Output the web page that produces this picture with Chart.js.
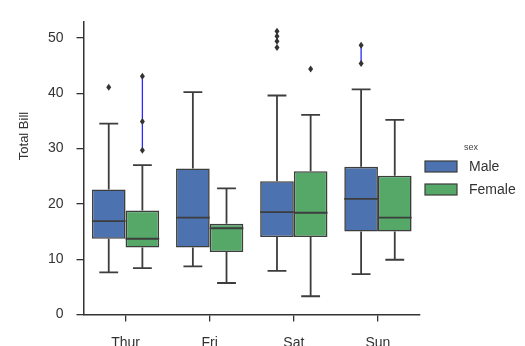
<!DOCTYPE html>
<html lang="en">
<head>
  <meta charset="UTF-8">
  <title>Total Bill by day</title>
  <script src="https://cdn.jsdelivr.net/npm/chart.js"></script>
  <style>
    html, body { margin: 0; padding: 0; background: #fff; }
    #wrap { width: 525px; height: 346px; }
  </style>
</head>
<body>
  <div id="wrap"><canvas id="boxChart" width="525" height="346"></canvas></div>
  <script>
    // categories and tick labels
    var days = ['Thur', 'Fri', 'Sat', 'Sun'];
    var yTicks = [0, 10, 20, 30, 40, 50];

    // Male boxes
    var maleLow = [7.6, 8.7, 7.9, 7.3];
    var maleQ1 = [13.7, 12.1, 14.0, 15.0];
    var maleMedian = [16.9, 17.5, 18.5, 20.9];
    var maleQ3 = [22.6, 26.4, 24.1, 26.7];
    var maleHigh = [34.5, 40.2, 39.6, 40.7];
    var maleOutliers = [[41.1], [], [51.2, 50.3, 49.4, 48.3], [48.7, 45.4]];

    // Female boxes
    var femaleLow = [8.4, 5.7, 3.3, 9.9];
    var femaleQ1 = [12.1, 11.3, 14.0, 15.0];
    var femaleMedian = [13.7, 15.6, 18.4, 17.5];
    var femaleQ3 = [18.8, 16.4, 25.9, 25.1];
    var femaleHigh = [27.0, 22.8, 36.1, 35.2];
    var femaleOutliers = [[43.1, 34.9, 29.7], [], [44.4], []];

    // outlier groups joined by a thin blue line in the original
    var linkedMale = [false, false, false, true];
    var linkedFemale = [true, false, false, false];

    var edge = '#3d3d3d';
    var font = "'Liberation Sans', Arial, sans-serif";

    var boxes = [
      { q1: maleQ1, q3: maleQ3, low: maleLow, med: maleMedian, high: maleHigh, out: maleOutliers, link: linkedMale },
      { q1: femaleQ1, q3: femaleQ3, low: femaleLow, med: femaleMedian, high: femaleHigh, out: femaleOutliers, link: linkedFemale }
    ];

    var boxParts = {
      id: 'boxParts',
      afterDatasetsDraw: function (chart) {
        var ctx = chart.ctx;
        var y = chart.scales.y;
        ctx.save();
        boxes.forEach(function (b, d) {
          var meta = chart.getDatasetMeta(d);
          meta.data.forEach(function (el, i) {
            var x = el.x, half = el.width / 2, cap = el.width * 0.28;
            var top = y.getPixelForValue(b.q3[i]);
            var bot = y.getPixelForValue(b.q1[i]);
            var hi = y.getPixelForValue(b.high[i]);
            var lo = y.getPixelForValue(b.low[i]);
            ctx.strokeStyle = edge;
            ctx.lineWidth = 1.8;
            ctx.beginPath();
            ctx.moveTo(x, top); ctx.lineTo(x, hi);
            ctx.moveTo(x - cap, hi); ctx.lineTo(x + cap, hi);
            ctx.moveTo(x, bot); ctx.lineTo(x, lo);
            ctx.moveTo(x - cap, lo); ctx.lineTo(x + cap, lo);
            var m = y.getPixelForValue(b.med[i]);
            ctx.moveTo(x - half, m); ctx.lineTo(x + half, m);
            ctx.stroke();

            var pts = b.out[i];
            if (b.link[i] && pts.length > 1) {
              ctx.strokeStyle = '#2a2af0';
              ctx.lineWidth = 1.3;
              ctx.beginPath();
              ctx.moveTo(x, y.getPixelForValue(Math.max.apply(null, pts)));
              ctx.lineTo(x, y.getPixelForValue(Math.min.apply(null, pts)));
              ctx.stroke();
            }
            ctx.fillStyle = '#333';
            pts.forEach(function (v) {
              var py = y.getPixelForValue(v);
              ctx.beginPath();
              ctx.moveTo(x, py - 3.5);
              ctx.lineTo(x + 2.5, py);
              ctx.lineTo(x, py + 3.5);
              ctx.lineTo(x - 2.5, py);
              ctx.closePath();
              ctx.fill();
            });
          });
        });
        ctx.restore();
      },
      afterDraw: function (chart) {
        var ctx = chart.ctx;
        ctx.save();
        // y axis label
        ctx.fillStyle = '#333';
        ctx.font = '13px ' + font;
        ctx.textAlign = 'center';
        ctx.textBaseline = 'middle';
        ctx.translate(24, 136);
        ctx.rotate(-Math.PI / 2);
        ctx.fillText('Total Bill', 0, 0);
        ctx.restore();

        // legend
        ctx.save();
        ctx.fillStyle = '#444';
        ctx.font = '9px ' + font;
        ctx.textAlign = 'left';
        ctx.textBaseline = 'middle';
        ctx.fillText('sex', 464, 148);
        chart.data.datasets.forEach(function (ds, k) {
          var ty = 167 + k * 23;
          ctx.fillStyle = ds.backgroundColor;
          ctx.fillRect(425, ty - 6, 32, 11);
          ctx.strokeStyle = edge;
          ctx.lineWidth = 1.2;
          ctx.strokeRect(425, ty - 6, 32, 11);
          ctx.fillStyle = '#333';
          ctx.font = '14px ' + font;
          ctx.fillText(ds.label, 469, ty);
        });
        ctx.restore();
      }
    };

    var ctx = document.getElementById('boxChart').getContext('2d');
    var chart = new Chart(ctx, {
      type: 'bar',
      data: {
        labels: days,
        datasets: [{
          label: 'Male',
          data: days.map(function (d, i) { return [maleQ1[i], maleQ3[i]]; }),
          backgroundColor: '#4C72B0',
          borderColor: edge,
          borderWidth: 1.6,
          borderSkipped: false
        }, {
          label: 'Female',
          data: days.map(function (d, i) { return [femaleQ1[i], femaleQ3[i]]; }),
          backgroundColor: '#55A868',
          borderColor: edge,
          borderWidth: 1.6,
          borderSkipped: false
        }]
      },
      options: {
        responsive: false,
        animation: false,
        categoryPercentage: 0.8,
        barPercentage: 1.0,
        layout: { padding: { top: 13, right: 105, left: 0, bottom: 0 } },
        plugins: { legend: { display: false }, tooltip: { enabled: false } },
        scales: {
          x: {
            grid: { offset: false, drawOnChartArea: false, drawTicks: true, tickLength: 7, color: '#333', lineWidth: 1.3 },
            border: { color: '#333', width: 1.5 },
            ticks: { color: '#333', padding: 13, font: { family: font, size: 14 } },
            afterFit: function (s) { s.height = 31.5; }
          },
          y: {
            min: 0,
            max: 53,
            afterBuildTicks: function (s) { s.ticks = yTicks.map(function (v) { return { value: v }; }); },
            grid: { drawOnChartArea: false, drawTicks: true, tickLength: 7, color: '#333', lineWidth: 1.3 },
            border: { color: '#333', width: 1.5 },
            ticks: { color: '#333', padding: 13, font: { family: font, size: 14 } },
            afterFit: function (s) { s.width = 83.5; }
          }
        }
      },
      plugins: [boxParts]
    });
  </script>
</body>
</html>
